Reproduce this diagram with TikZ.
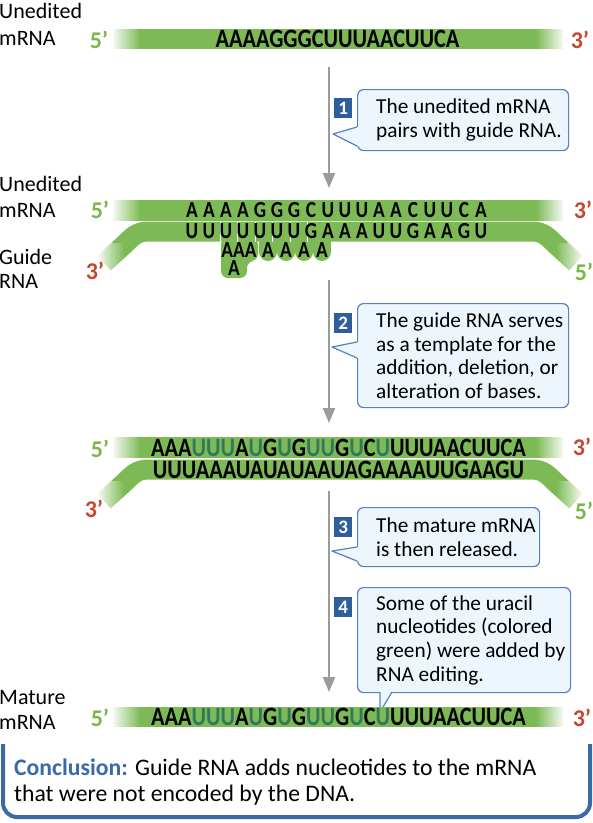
\documentclass[tikz,border=0pt]{standalone}
\usepackage{fontspec}
\setmainfont{Carlito}
\newfontfamily\seqfont[FakeStretch=0.84]{Carlito}
\usepackage{tikz}
\usetikzlibrary{
  arrows.meta,
  positioning,
  fadings,
}
\definecolor{rnaGreen}{HTML}{7DBA55}
\definecolor{fiveGreen}{HTML}{7AB648}
\definecolor{threeRed}{HTML}{C8462C}
\definecolor{editU}{HTML}{2F7A5C}
\definecolor{stepBlue}{HTML}{2F5E9C}
\definecolor{calloutLine}{HTML}{5582BE}
\definecolor{calloutBg}{HTML}{EEF6FD}
\definecolor{conclBlue}{HTML}{3A6AA8}
\definecolor{arrowGray}{HTML}{9B9B9B}
\tikzfading[name=fadeOutRight, left color=transparent!0, right color=transparent!100]
\tikzfading[name=fadeOutLeft, left color=transparent!100, right color=transparent!0]
\newcommand{\addU}[1]{\textcolor{editU}{#1}}
\tikzset{
  lbl/.style={anchor=base west, inner sep=0pt, font=\fontsize{22pt}{24pt}\selectfont},
  endFive/.style={inner sep=0pt, text=fiveGreen, font=\bfseries\fontsize{24pt}{24pt}\selectfont},
  endThree/.style={inner sep=0pt, text=threeRed, font=\bfseries\fontsize{24pt}{24pt}\selectfont},
  seq/.style={inner sep=0pt, font={\seqfont\bfseries\fontsize{26.5pt}{28pt}\selectfont}},
  seqSmall/.style={inner sep=0pt, font={\seqfont\bfseries\fontsize{23pt}{24pt}\selectfont}},
  guideBand/.style={draw=rnaGreen, line width=20pt},
  callout/.style={
    rectangle, rounded corners=6pt, draw=calloutLine, line width=1.2pt,
    fill=calloutBg, anchor=north west, inner sep=0pt,
  },
  noteText/.style={align=left, inner sep=0pt, font=\fontsize{21.3pt}{23.6pt}\selectfont},
  badge/.style={
    rectangle, fill=stepBlue, text=white, anchor=north west, inner sep=0pt,
    minimum width=18pt, minimum height=20pt, font=\bfseries\fontsize{19pt}{19pt}\selectfont,
  },
  tailLine/.style={draw=calloutLine, line width=1.2pt, line join=round},
  stepArrow/.style={-{Triangle[length=15pt,width=12pt]}, line width=2.2pt, draw=arrowGray},
}

\begin{document}
\begin{tikzpicture}[x=1pt,y=-1pt]
\useasboundingbox (0,0) rectangle (593,823);
\fill[white] (0,0) rectangle (593,823);

% --- unedited mRNA
\fill[rnaGreen] (113,29) rectangle (563,49);
\fill[white, path fading=fadeOutRight] (111,28) rectangle (140,50);
\fill[white, path fading=fadeOutLeft] (536,28) rectangle (565,50);
\node[lbl] (unedA) at (-1,18) {Unedited};
\node[lbl] (unedB) at (-1,45) {mRNA};
\node[endFive] (fiveA) at (99,40) {5’};
\node[endThree] (threeA) at (580,40) {3’};
\node[seq] (seqA) at (337.5,39) {AAAAGGGCUUUAACUUCA};

% --- step 1
\coordinate (arrA1) at (329,67);
\coordinate (arrA2) at (329,188);
\draw[stepArrow] (arrA1) -- (arrA2);
\node[callout, minimum width=211pt, minimum height=61pt] (noteA) at (357,89) {};
\node[noteText, right=19pt of noteA.west] (textA) {The unedited mRNA\\pairs with guide RNA.};
\coordinate (tipA) at (333,134);
\fill[calloutBg] (359,127) -- (357,127) -- (tipA) -- (357,146) -- (359,146) -- cycle;
\draw[tailLine] (357,127) -- (tipA) -- (357,146);
\node[badge] (stepA) at (334,98) {1};

% --- mRNA paired with guide RNA
\fill[rnaGreen] (113,200) rectangle (563,220.5);
\draw[guideBand] (104,263) -- (125,244) .. controls (132,237) and (137,231.5) .. (148,231.5)
  -- (532,231.5) .. controls (543,231.5) and (548,237) .. (555,244) -- (576,263);
\fill[rnaGreen, rounded corners=7pt] (221,238) -- (221,278) -- (247,278) -- (247,261)
  -- (258,261) -- (258,238) -- cycle;
\foreach \c in {268,286,304,322} {
  \fill[rnaGreen] (\c-9,238) rectangle (\c+9,252);
  \fill[rnaGreen] (\c,252) circle (9);
}
\fill[white, path fading=fadeOutRight] (111,199) rectangle (140,221);
\fill[white, path fading=fadeOutLeft] (536,199) rectangle (565,221);
\fill[white] (86,243) rectangle (97,278);
\fill[white, path fading=fadeOutRight] (96,243) rectangle (124,278);
\fill[white, path fading=fadeOutLeft] (556,243) rectangle (584,278);
\fill[white] (583,243) rectangle (594,278);
\foreach \x in {220,237.5,255,272.5,290,307.5}
  \draw[white, line width=0.8pt] (\x,221.5) -- (\x,241.5);
\foreach \b [count=\i from 0] in {A,A,A,A,G,G,G,C,U,U,U,A,A,C,U,U,C,A}
  \node[seqSmall] (mB\i) at (192+17*\i,210) {\b};
\foreach \b [count=\i from 0] in {U,U,U,U,U,U,U,G,A,A,A,U,U,G,A,A,G,U}
  \node[seqSmall] (gB\i) at (192+17*\i,231.5) {\b};
\node[seqSmall] (loopA) at (239,250) {AAA};
\node[seqSmall] (loopB) at (234,268) {A};
\foreach \c [count=\i] in {268,286,304,322}
  \node[seqSmall] (bump\i) at (\c,250) {A};
\node[lbl] (unedC) at (-1,191) {Unedited};
\node[lbl] (unedD) at (-1,217) {mRNA};
\node[lbl] (guideA) at (-1,264) {Guide};
\node[lbl] (guideB) at (-1,288) {RNA};
\node[endFive] (fiveB) at (100,210) {5’};
\node[endThree] (threeB) at (583,210) {3’};
\node[endThree] (threeC) at (95,271) {3’};
\node[endFive] (fiveC) at (584,272) {5’};

% --- step 2
\coordinate (arrB1) at (329,280);
\coordinate (arrB2) at (329,423);
\draw[stepArrow] (arrB1) -- (arrB2);
\node[callout, minimum width=211pt, minimum height=104pt] (noteB) at (357,303) {};
\node[noteText, right=19pt of noteB.west] (textB)
  {The guide RNA serves\\as a template for the\\addition, deletion, or\\alteration of bases.};
\coordinate (tipB) at (332,347);
\fill[calloutBg] (359,342) -- (357,342) -- (tipB) -- (357,358) -- (359,358) -- cycle;
\draw[tailLine] (357,342) -- (tipB) -- (357,358);
\node[badge] (stepB) at (334,313) {2};

% --- edited mRNA still paired
\fill[rnaGreen] (113,437) rectangle (563,458);
\draw[guideBand] (104,501) -- (125,482) .. controls (132,475) and (137,469.5) .. (148,469.5)
  -- (532,469.5) .. controls (543,469.5) and (548,475) .. (555,482) -- (576,501);
\fill[white, path fading=fadeOutRight] (111,436) rectangle (140,459);
\fill[white, path fading=fadeOutLeft] (536,436) rectangle (565,459);
\fill[white] (86,481) rectangle (97,516);
\fill[white, path fading=fadeOutRight] (96,481) rectangle (124,516);
\fill[white, path fading=fadeOutLeft] (556,481) rectangle (584,516);
\fill[white] (583,481) rectangle (594,516);
\node[seq] (seqC) at (338.5,447.5)
  {AAA\addU{UUU}A\addU{U}G\addU{U}G\addU{UU}G\addU{U}C\addU{U}UUUAACUUCA};
\node[seq] (seqD) at (338.5,469.5) {UUUAAAUAUAUAAUAGAAAAUUGAAGU};
\node[endFive] (fiveD) at (100,449) {5’};
\node[endThree] (threeD) at (582,447) {3’};
\node[endThree] (threeE) at (94,509) {3’};
\node[endFive] (fiveE) at (584,511) {5’};

% --- steps 3 and 4
\coordinate (arrC1) at (329,491);
\coordinate (arrC2) at (329,692);
\draw[stepArrow] (arrC1) -- (arrC2);
\node[callout, minimum width=182pt, minimum height=59pt] (noteC) at (357,507) {};
\node[noteText, right=19pt of noteC.west] (textC) {The mature mRNA\\is then released.};
\coordinate (tipC) at (332,551);
\fill[calloutBg] (359,547) -- (357,547) -- (tipC) -- (357,561) -- (359,561) -- cycle;
\draw[tailLine] (357,547) -- (tipC) -- (357,561);
\node[badge] (stepC) at (334,517) {3};
\node[callout, minimum width=213pt, minimum height=105pt] (noteD) at (357,587) {};
\node[noteText, right=19pt of noteD.west] (textD)
  {Some of the uracil\\nucleotides (colored\\green) were added by\\RNA editing.};
\coordinate (tipD) at (380,712);
\fill[calloutBg] (380,690) -- (tipD) -- (392,690) -- cycle;
\draw[tailLine] (380,692) -- (tipD) -- (392,692);
\node[badge] (stepD) at (334,597) {4};

% --- mature mRNA
\fill[rnaGreen] (113,707) rectangle (563,727);
\fill[white, path fading=fadeOutRight] (111,706) rectangle (140,728);
\fill[white, path fading=fadeOutLeft] (536,706) rectangle (565,728);
\node[seq] (seqE) at (338.5,717)
  {AAA\addU{UUU}A\addU{U}G\addU{U}G\addU{UU}G\addU{U}C\addU{U}UUUAACUUCA};
\node[lbl] (matA) at (-1,704) {Mature};
\node[lbl] (matB) at (-1,729) {mRNA};
\node[endFive] (fiveF) at (100,718) {5’};
\node[endThree] (threeF) at (582,718) {3’};

% --- conclusion
\draw[conclBlue, line width=4pt, rounded corners=14pt] (3,744) -- (3,817) -- (590,817) -- (590,744);
\node[anchor=north west, inner sep=0pt, align=left, font=\fontsize{23.7pt}{26pt}\selectfont] (concl) at (14,759)
  {\textcolor{conclBlue}{\textbf{Conclusion:}} Guide RNA adds nucleotides to the mRNA\\that were not encoded by the DNA.};
\end{tikzpicture}
\end{document}
